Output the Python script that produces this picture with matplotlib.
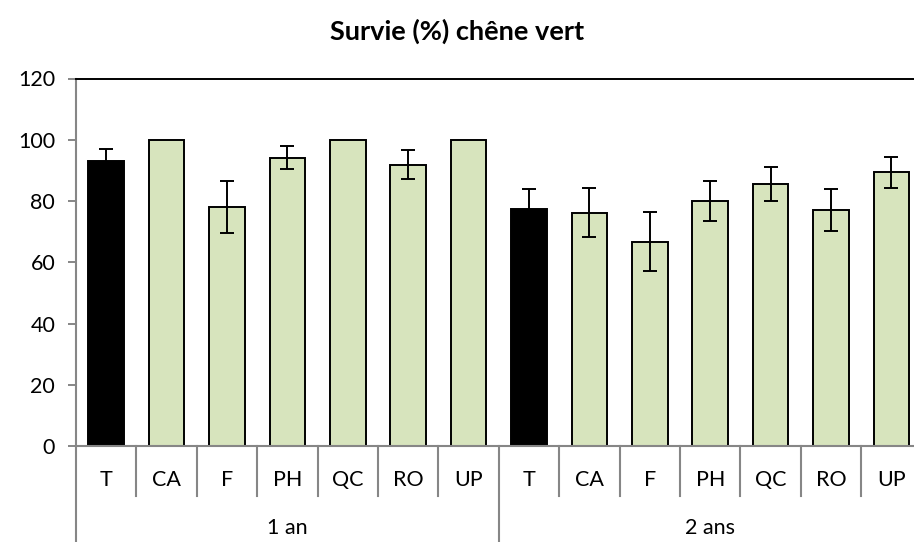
import matplotlib
matplotlib.use('Agg')
import matplotlib.pyplot as plt
import matplotlib.transforms as mtransforms
import numpy as np

# data
categories = ["T", "CA", "F", "PH", "QC", "RO", "UP"]
groups = ["1 an", "2 ans"]
survie_1an = [93.2, 100, 78.0, 94.1, 100, 91.8, 100]
err_1an = [3.7, 0, 8.4, 3.7, 0, 4.7, 0]
survie_2ans = [77.3, 76.1, 66.7, 80.0, 85.6, 77.1, 89.4]
err_2ans = [6.6, 8.0, 9.6, 6.5, 5.5, 6.9, 5.0]

plt.rcParams['font.family'] = ['Lato', 'DejaVu Sans']

green = '#D7E4BD'
grey = '#868686'

values = survie_1an + survie_2ans
errors = err_1an + err_2ans
labels = categories + categories
colors = ['black' if c == 'T' else green for c in labels]
x = np.arange(len(values))

fig = plt.figure(figsize=(9.14, 5.42), dpi=100)
ax = fig.add_axes([76 / 914, 1 - 446 / 542, 1 - 76 / 914, 367.5 / 542])

ax.bar(x, values, width=0.59, color=colors, edgecolor='black', linewidth=1.4, zorder=2)

# error bars only where there is a spread
mask = np.array(errors) > 0
ax.errorbar(x[mask], np.array(values)[mask], yerr=np.array(errors)[mask], fmt='none',
            ecolor='black', elinewidth=1.4, capsize=5, capthick=1.4, zorder=3)

ax.set_ylim(0, 120)
ax.set_yticks(range(0, 121, 20))
ax.set_xlim(-0.5, 13.374)
ax.set_xticks([])

ax.spines['right'].set_visible(False)
ax.spines['top'].set_color('black')
ax.spines['top'].set_linewidth(1.4)
ax.spines['left'].set_color(grey)
ax.spines['left'].set_linewidth(1.5)
ax.spines['bottom'].set_color(grey)
ax.spines['bottom'].set_linewidth(1.5)
ax.tick_params(axis='y', colors=grey, labelcolor='black', length=6, width=1.4,
               labelsize=15.5, pad=9)

# two-level category axis drawn under the plot
trans = mtransforms.blended_transform_factory(ax.transData, ax.transAxes)
n = len(categories)
for k in range(len(values) + 1):
    xb = k - 0.5
    bottom = -0.262 if k % n == 0 else -0.137
    ax.plot([xb, xb], [0, bottom], color=grey, lw=1.5, transform=trans, clip_on=False)
for i, lab in enumerate(labels):
    ax.text(x[i], -0.093, lab, transform=trans, ha='center', va='center', fontsize=15.5)
for g, name in enumerate(groups):
    ax.text(g * n + (n - 1) / 2, -0.223, name, transform=trans, ha='center', va='center',
            fontsize=15.5)

fig.text(0.5, 1 - 31 / 542, "Survie (%) chêne vert", ha='center', va='center',
         fontsize=19.5, fontweight='bold')

fig.savefig('out.png', dpi=100)
